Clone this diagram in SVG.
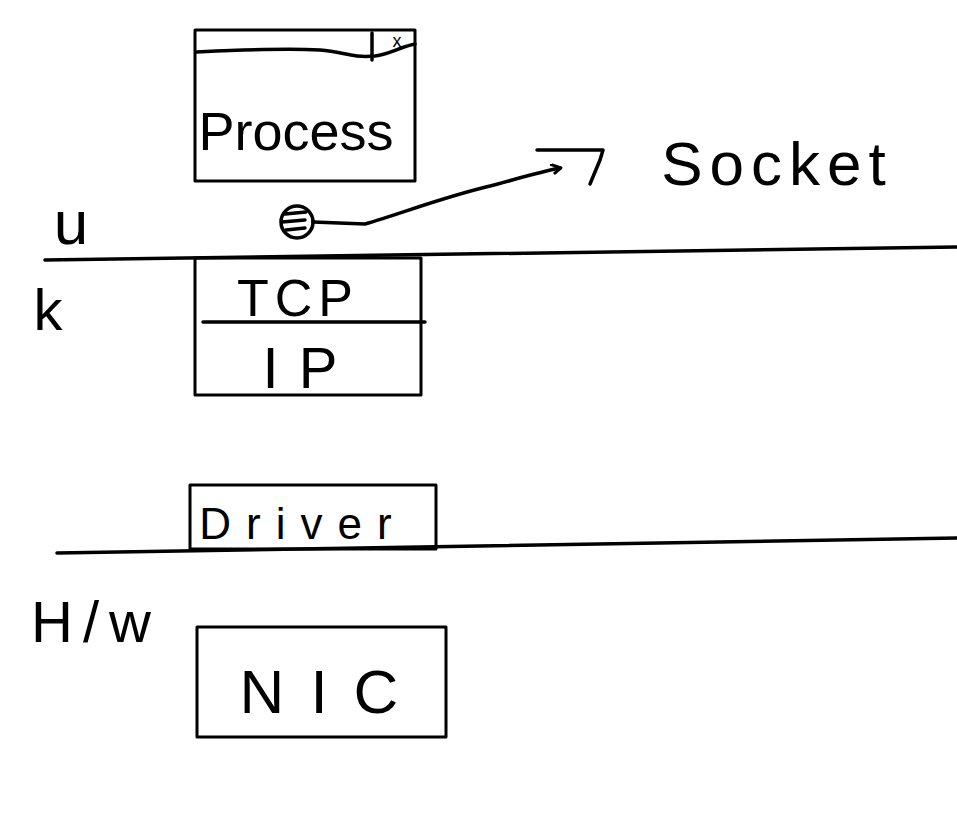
<svg xmlns="http://www.w3.org/2000/svg" width="957" height="839" viewBox="0 0 957 839">
<style>
.box{fill:none;stroke:#000;stroke-width:3;stroke-linejoin:round}
.ln{fill:none;stroke:#000;stroke-width:3.5;stroke-linecap:round;stroke-linejoin:round}
.t{font-family:"Liberation Sans","DejaVu Sans",sans-serif;fill:#000;text-anchor:middle}
</style>
<defs>
<marker id="ah" markerWidth="12" markerHeight="12" refX="9" refY="6" orient="auto" markerUnits="userSpaceOnUse">
<path d="M1,1 L10,6 L3,10" fill="none" stroke="#000" stroke-width="3" stroke-linecap="round" stroke-linejoin="round"/>
</marker>
</defs>
<rect width="957" height="839" fill="#fff"/>
<g id="layers">
<path class="ln" d="M45,260 L957,247"/>
<path class="ln" d="M57,553 L957,538"/>
<text class="t" x="71" y="244" font-size="62">u</text>
<text class="t" x="48" y="330" font-size="58">k</text>
<text class="t" x="96" y="642" font-size="58" letter-spacing="10">H/w</text>
</g>
<g id="process">
<rect class="box" x="195" y="30" width="220" height="151"/>
<path class="ln" d="M197,52 C240,50 280,48 320,50 C345,52 350,58 375,56 C390,54 400,47 415,44"/>
<path class="ln" d="M372,33 L372,60"/>
<text class="t" x="397" y="47" font-size="18">x</text>
<text class="t" x="296" y="150" font-size="54">Process</text>
</g>
<g id="socket">
<circle cx="297" cy="222" r="16" fill="none" stroke="#000" stroke-width="3.5"/>
<path class="ln" d="M285,214 L306,212 M282,222 L305,220 M286,230 L305,228"/>
<text class="t" x="777" y="185" font-size="62" letter-spacing="7">Socket</text>
<path class="ln" d="M537,150 L603,150 L600,160 L590,184"/>
</g>
<g id="tcpip">
<rect class="box" x="195" y="258" width="226" height="137"/>
<path class="ln" d="M203,322 L425,322"/>
<text class="t" x="298" y="316" font-size="52" letter-spacing="6">TCP</text>
<text class="t" x="310" y="388" font-size="58" letter-spacing="20">IP</text>
</g>
<g id="driver">
<rect class="box" x="190" y="485" width="246" height="64"/>
<text class="t" x="303" y="539" font-size="44" letter-spacing="15">Driver</text>
</g>
<g id="nic">
<rect class="box" x="197" y="627" width="249" height="110"/>
<text class="t" x="332" y="713" font-size="62" letter-spacing="26">NIC</text>
</g>
<g id="connectors">
<path class="ln" d="M313,222 L365,224 C400,214 440,198 490,186 C520,178 540,172 560,168" marker-end="url(#ah)"/>
</g>
</svg>
